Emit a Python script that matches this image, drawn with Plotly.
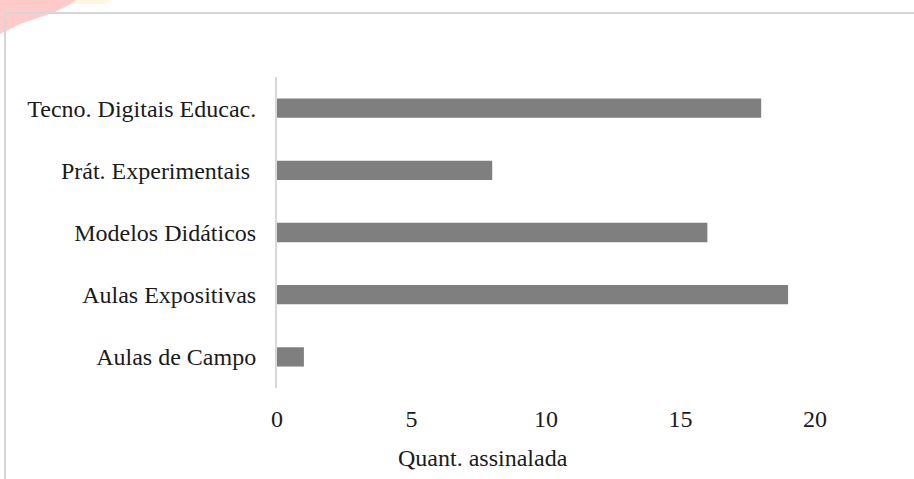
import plotly.graph_objects as go

categories = ["Aulas de Campo", "Aulas Expositivas", "Modelos Didáticos",
              "Prát. Experimentais ", "Tecno. Digitais Educac."]
values = [1, 19, 16, 8, 18]
x_ticks = [0, 5, 10, 15, 20]
x_title = "Quant. assinalada"

W, H = 914, 479
ML, MR, MT, MB = 277, 99, 77, 91
PW, PH = W - ML - MR, H - MT - MB


def px(x):
    return (x - ML) / PW


def py(y):
    return (H - MB - y) / PH


FONT = "'Liberation Serif', 'Times New Roman', Times, serif"
FS = 24

fig = go.Figure(go.Bar(
    x=values, y=categories, orientation="h",
    marker=dict(color="#7f7f7f", line=dict(width=0)),
    width=0.31,
))

shapes = [
    # watermark fragment
    dict(type="path", xref="paper", yref="paper",
         path=f"M {px(0)},{py(0)} L {px(78)},{py(0)} L {px(55)},{py(12)} L {px(20)},{py(24)} L {px(0)},{py(34)} Z",
         fillcolor="#ffcaca", line=dict(width=0), layer="below"),
    dict(type="path", xref="paper", yref="paper",
         path=f"M {px(76)},{py(0)} L {px(112)},{py(0)} L {px(104)},{py(4)} L {px(72)},{py(4)} Z",
         fillcolor="#fff6e0", line=dict(width=0), layer="below"),
    # border
    dict(type="rect", xref="paper", yref="paper",
         x0=px(5), x1=px(960), y0=py(520), y1=py(13),
         line=dict(color="#d6d6d6", width=2), fillcolor="rgba(0,0,0,0)"),
]

fig.update_layout(
    width=W, height=H,
    margin=dict(l=ML, r=MR, t=MT, b=MB),
    paper_bgcolor="white", plot_bgcolor="white",
    showlegend=False,
    bargap=0.69,
    font=dict(family=FONT, size=FS, color="#1a1a1a"),
    shapes=shapes,
    annotations=[dict(text=x_title, xref="paper", yref="paper",
                      x=px(483), y=py(458), xanchor="center", yanchor="middle",
                      showarrow=False, font=dict(family=FONT, size=FS, color="#1a1a1a"))],
    xaxis=dict(range=[0, 20], tickvals=x_ticks, showgrid=False, zeroline=False,
               showline=False, ticks="", tickfont=dict(family=FONT, size=FS), ticklabelstandoff=14,
               fixedrange=True),
    yaxis=dict(showgrid=False, zeroline=False, showline=True, linecolor="#d9d9d9",
               linewidth=2, ticks="", ticklabelstandoff=14, tickfont=dict(family=FONT, size=FS),
               categoryorder="array", categoryarray=categories),
)

fig.write_html("out.html")
